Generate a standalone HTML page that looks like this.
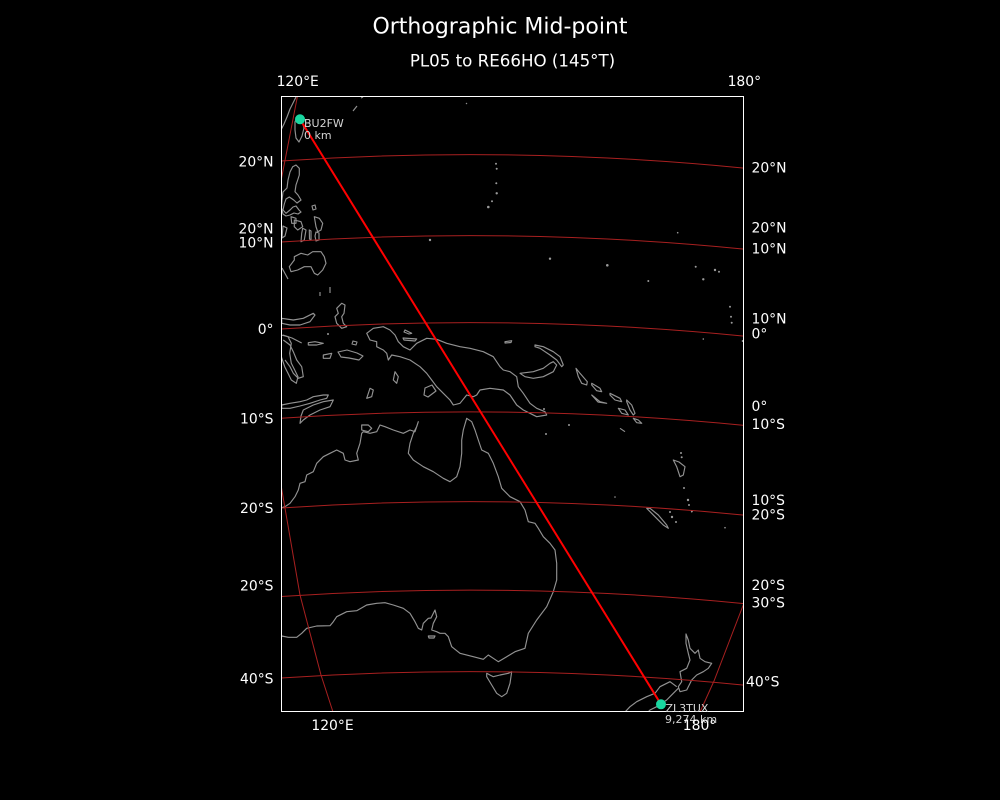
<!DOCTYPE html>
<html>
<head>
<meta charset="utf-8">
<style>
  html,body{margin:0;padding:0;background:#000;}
  body{width:1000px;height:800px;overflow:hidden;}
  svg{display:block;}
  text{font-family:"DejaVu Sans","Liberation Sans",sans-serif;fill:#fff;}
</style>
</head>
<body>
<svg width="1000" height="800" viewBox="0 0 1000 800" xmlns="http://www.w3.org/2000/svg">
  <rect x="0" y="0" width="1000" height="800" fill="#000"/>
  <defs>
    <clipPath id="frame"><rect x="281" y="96" width="463" height="616"/></clipPath>
  </defs>

  <!-- titles -->
  <text x="500" y="33.5" font-size="22" text-anchor="middle">Orthographic Mid-point</text>
  <text x="512.5" y="66.7" font-size="16.67" text-anchor="middle">PL05 to RE66HO (145°T)</text>

  <g clip-path="url(#frame)">
    <!-- coastlines -->
    <g fill="none" stroke="#929292" stroke-width="1.15" stroke-linejoin="round">
      <!-- China coast -->
      <polyline points="281,130 284,124 287,117 290,109 293,103 296,97"/>
      <!-- Taiwan -->
      <polygon points="297,117 302,121 304,128 302,136 299,142 296,138 295,130 295,122"/>
      <polyline points="353,111 357,106"/>
      <polyline points="361,98 363,97"/>
      <polyline points="466,103 467,104"/>
      <!-- Luzon -->
      <polygon points="292.7,166.7 296,165 299.3,168.3 299.3,175 297.7,180 296,185 295,191.7 298,195 301,200 297,203 293.7,200 289.3,197 286,199 284.3,204 283,210 286,213.3 290,210 293,207 296,206 299,210 301,212 298,214 294,213 290,215 286,216 283,214 281.5,208 282,200 283,192 287,188 288,180 290,172"/>
      <polygon points="312,206 315,205 316,209 313,210"/>
      <!-- Mindoro -->
      <polygon points="291,216.7 296,218.3 296,223.3 291.7,223.3"/>
      <!-- Samar / Leyte -->
      <polygon points="314.3,216.7 319.3,218.3 322.7,223.3 321,230 317.7,231.7 316,226.7"/>
      <polygon points="316,232 319,233 319,240 316,241 315,236"/>
      <!-- Panay / Negros / Cebu -->
      <polygon points="294.3,220 301,221.7 302.7,226.7 297.7,230 294.3,226.7"/>
      <polygon points="302.7,228.3 306,230 304.3,240 301,241.7 301.7,233.3"/>
      <polygon points="309.3,230 311,231 311,240 309.5,239"/>
      <polygon points="283,226 287,228 285,236 282,238"/>
      <!-- Mindanao -->
      <polygon points="294.3,256.7 301,253.3 307.7,255 312.7,251.7 321,251.7 324.3,256.7 326,263.3 322.7,270 317.7,275 314.3,273.3 311,266.7 304.3,266.7 297.7,270 291,271.7 289.3,266.7 294.3,260"/>
      <polyline points="282,268 288,279"/>
      <polyline points="320,292 320,296"/>
      <polyline points="330,287 330,293"/>
      <!-- Sulawesi north arm -->
      <polygon points="281.7,318.3 293.3,320 303.3,318.3 313.3,313.3 315,315 310,321.7 300,325 290,325 281.7,323.3"/>
      <!-- Sulawesi body -->
      <polyline points="281.3,335 288,336.7 291.3,343.3 289.7,353.3 291.3,363.3 294.7,370 298,376.7 296.3,383.3 291.3,380 288,373.3 284.7,366.7 281.3,356.7"/>
      <polyline points="283,335 292,338 301.7,343"/>
      <polyline points="283.3,340 290,345 293.3,351.7 296.7,360 301.7,366.7 303.3,376.7 298.3,378.3 293.3,373.3 290,366.7 285,360"/>
      <!-- Halmahera -->
      <polygon points="341.7,303.3 345,305 344,313.3 341.7,316.7 343.3,323.3 346.7,326.7 341.7,328.3 336.7,323.3 335,316.7 338.3,313.3 336.7,308.3"/>
      <polygon points="308.3,342.7 315,341.7 323.3,343.3 316.7,345 308.3,345"/>
      <polygon points="323.3,355 331.7,353.3 330,358.3 323.3,358.3"/>
      <polygon points="338,352 347,350 357,353 363,356 359,360 349,358 341,357"/>
      <polygon points="353,341 357,342 356,345 352,344"/>
      <!-- New Guinea -->
      <polygon points="366.7,333.3 373.3,328.3 383.3,326.7 390,330 395,335 398.3,341.7 403.3,346.7 410,350 416.7,343.3 426.7,338.3 436.7,339.3 446.7,343.3 460,346.7 470,348.3 483.3,351.7 493.3,356.7 500,366.7 503.3,370 510,371.7 516.7,376.7 518.3,386.7 523.3,393.3 530,403.3 536.7,408.3 545,411.7 546.7,415 536.7,416.7 530,413.3 523.3,410 516.7,405 510,395 503.3,390 490,388.3 480,390 476.7,395 473.3,396.7 466.7,395 460,403.3 453.3,405 450,400 443.3,393.3 436.7,386.7 431.7,380 426.7,373.3 420,366.7 410,360 400,356.7 391.7,355 388.3,360 386.7,353.3 383.3,350 376.7,346.7 376.7,341.7 370,340"/>
      <polygon points="425,388 432,385 436,391 428,397 424,395"/>
      <polygon points="405,330 411.7,333.3 409,334 404,332"/>
      <polygon points="403,338 416.7,339 415,341 404,340"/>
      <polygon points="395,371.7 398.3,376.7 396.7,383.3 393.3,380"/>
      <polygon points="370,388.3 373.3,390 371.7,396.7 366.7,398.3"/>
      <!-- Timor / Flores -->
      <polygon points="303.3,410 313.3,405 323.3,401.7 333.3,400 330,406.7 320,410 310,415 303.3,420 300,423.3 301,416"/>
      <polygon points="281.7,405 290,403.3 300,401.7 306.7,400 313.3,396.7 323.3,395 328.3,395 326.7,398.3 320,400 310,403.3 300,406 290,408.3 281.7,408.3"/>
      <!-- New Britain / New Ireland -->
      <polygon points="520,373.3 533.3,371.7 543.3,368.3 550,363.3 553.3,361.7 556.7,365 553.3,371.7 543.3,376.7 533.3,378.3 525,376.7"/>
      <polygon points="535,345 543.3,346.7 553.3,351.7 560,356.7 563.3,365 561.7,366.7 556.7,360 550,355 540,348.3 535,346.7"/>
      <polygon points="505,341.7 511.7,340.7 511,342.5 505,343"/>
      <!-- Solomons -->
      <polygon points="576,368.3 580,373.3 587.3,381.7 586.7,385 581.7,383.3 578.3,376.7"/>
      <polygon points="591.7,383.3 600,388.3 601.7,391.7 596.7,390.7 591.7,385"/>
      <polygon points="610,393.3 620,398.3 621.7,401.7 615,400 610,395"/>
      <polygon points="626.7,400 631.7,405 635,413.3 633.3,415 630,410 626.7,401.7"/>
      <polygon points="618.3,408.3 625,410 628.3,415 621.7,413.3"/>
      <polygon points="633.3,418.3 638.3,420 641.7,423.3 636.7,422.7"/>
      <polygon points="591.7,395 600,401.7 606.7,403.3 598,402"/>
      <polyline points="620,428.3 625,431.7"/>
      <!-- Vanuatu -->
      <polygon points="673.3,460 676.7,466.7 680,476.7 683.3,475 685,466.7 679,462"/>
      <!-- New Caledonia -->
      <polygon points="646.7,508.3 655,516.7 663.3,525 668.3,528.3 666.7,525 658.3,515 650,508.3"/>
      <!-- Australia -->
      <polyline points="281,508 285,506.7 290,503.3 295,496.7 298.3,490 300,483.3 305,481.7 306.7,475 313.3,471.7 316.7,463.3 323.3,456.7 330,453.3 336.7,450 343.3,453.3 345,460 350,461.7 358.3,460 356.7,453.3 360,443.3 361.7,433.3 363.3,431.7 370,433.3 376.7,431.7 380,425 385,426.7 393.3,430 403.3,433.3 410,430 415,431.7 418.3,421.7 416.7,426.7 413.3,433.3 410,443.3 408.3,453.3 413.3,460 423.3,466.7 433.3,471.7 443.3,478.3 450,481.7 456.7,476.7 460,466.7 461.7,453.3 461.7,440 463.3,430 466.7,418.3 471.7,421.7 475,430 478.3,440 481.7,450 488.3,453.3 493.3,463.3 498.3,476.7 501.7,488.3 510,496.7 520,501.7 525,510 528.3,521.7 535,523.3 538.3,528.3 543.3,536.7 550,543.3 555,550 556.7,563.3 556.7,580 553.3,591.7 546.7,606.7 536.7,620 528.3,633.3 525,648.3 515,651.7 506.7,656.7 498.3,661.7 493.3,658.3 488.3,655 483.3,659.3 473.3,656.7 460,653.3 451.7,646.7 448.3,636.7 445,633.3 440,633.3 436.7,631.7 431.7,630 433.3,623.3 436.7,616.7 435,610 431,618 428.3,618.3 423.3,623.3 421.7,630 418.3,628.3 415,621.7 410,613.3 403.3,608.3 393.3,605 385,602.7 376.7,603.3 366.7,605 356.7,610.7 346.7,611.7 336.7,616.7 333.3,621.7 330,625.7 316.7,626 306.7,628.3 301.7,633.3 296.7,637.3 288.3,637.3 281.7,636"/>
      <polygon points="361.7,425 368.3,425 371.7,428.3 368.3,431.7 361.7,430"/>
      <polygon points="428.3,636 435,636 434,638 429,638"/>
      <!-- Tasmania -->
      <polygon points="486.7,673.3 493.3,676.7 500,675 508.3,673.3 511.7,671.7 510,683.3 506.7,693.3 501.7,696.7 496.7,693.3 491.7,685 486.7,676.7"/>
      <!-- New Zealand -->
      <polygon points="686,634 688.3,640 690,648.3 695,653.3 698.3,650 700,658.3 705,661.7 711.7,663.3 708.3,668.3 703.3,671.7 696.7,675 691.7,680 686.7,690 680,691.7 678.3,686.7 681.7,681.7 680,671.7 686.7,668.3 690,660 688.3,653.3 686,643.3"/>
      <polyline points="676.7,686.7 670,681.7 660,686.7 655,693.3 646.7,696.7 636.7,701.7 630,706.7 625,712"/>
      <polyline points="678.3,688.3 673.3,693.3 666.7,700 656.7,706.7 650,710 647,713"/>
    </g>
    <!-- small island dots -->
    <g fill="#9a9a9a">
      <circle cx="496" cy="163.7" r="1"/><circle cx="496.7" cy="168.7" r="1"/>
      <circle cx="496.3" cy="183.3" r="1"/><circle cx="496.7" cy="193.3" r="1.2"/>
      <circle cx="492" cy="201.3" r="1"/><circle cx="488.3" cy="207" r="1.3"/>
      <circle cx="430" cy="240" r="1.2"/><circle cx="550" cy="258.7" r="1.2"/>
      <circle cx="607.3" cy="265.3" r="1.3"/><circle cx="648.3" cy="281" r="1"/>
      <circle cx="695.7" cy="266.7" r="1"/><circle cx="715" cy="270" r="1.2"/>
      <circle cx="719" cy="271.7" r="1"/><circle cx="703.3" cy="279.3" r="1.2"/>
      <circle cx="677.7" cy="232.7" r="0.8"/><circle cx="730" cy="306.7" r="1"/>
      <circle cx="731" cy="316.7" r="1"/><circle cx="731.7" cy="322.7" r="1"/>
      <circle cx="742.7" cy="341" r="1"/><circle cx="703.3" cy="339" r="0.8"/>
      <circle cx="725" cy="527.7" r="0.8"/><circle cx="691.7" cy="511.7" r="0.8"/>
      <circle cx="681.7" cy="457.3" r="1"/><circle cx="681" cy="453" r="1"/>
      <circle cx="684" cy="488" r="1"/><circle cx="688" cy="500" r="1.2"/>
      <circle cx="689" cy="505" r="1"/><circle cx="692" cy="511" r="1"/>
      <circle cx="670" cy="512" r="1"/><circle cx="672" cy="517" r="1.2"/>
      <circle cx="676" cy="522" r="1"/><circle cx="615" cy="497" r="0.8"/>
      <circle cx="546" cy="434" r="1"/><circle cx="569" cy="425" r="1"/>
      <circle cx="544" cy="409" r="1"/><circle cx="328" cy="334" r="1"/>
    </g>

    <!-- graticule -->
    <g fill="none" stroke="#a82020" stroke-width="1">
      <path d="M281,161 Q512.5,145.25 744,168.1"/>
      <path d="M281,242 Q512.5,226.25 744,249.1"/>
      <path d="M281,329 Q512.5,313.25 744,336.1"/>
      <path d="M281,418.3 Q512.5,402.55 744,425.4"/>
      <path d="M281,508 Q512.5,492.25 744,515.1"/>
      <path d="M281,596.5 Q512.5,580.75 744,603.6"/>
      <path d="M281,678 Q512.5,662.25 744,685.1"/>
      <path d="M297.5,96 L281,181"/>
      <polyline points="281,485 290.5,540 300,595 310.5,635 321,675 333,712"/>
      <polyline points="744,603 729,642 714,681 700,712"/>
    </g>

    <!-- great circle path -->
    <line x1="300" y1="119.3" x2="661" y2="704.3" stroke="#ff0000" stroke-width="2"/>
  </g>

  <!-- frame -->
  <rect x="281.5" y="96.5" width="462" height="615" fill="none" stroke="#ffffff" stroke-width="1"/>

  <!-- endpoints -->
  <circle cx="300" cy="119.3" r="5" fill="#19d6a0"/>
  <circle cx="661" cy="704.3" r="5" fill="#19d6a0"/>
  <g font-size="11">
    <text x="304" y="127" style="fill:#d4d4d4">BU2FW</text>
    <text x="304" y="139" style="fill:#d4d4d4">0 km</text>
    <text x="665.5" y="712" style="fill:#d4d4d4">ZL3TUX</text>
    <text x="665" y="723" style="fill:#d4d4d4">9,274 km</text>
  </g>

  <!-- tick labels -->
  <g font-size="13.9">
    <text x="297.7" y="86" text-anchor="middle">120°E</text>
    <text x="744.3" y="86" text-anchor="middle">180°</text>
    <text x="332.5" y="730" text-anchor="middle">120°E</text>
    <text x="699.5" y="730" text-anchor="middle">180°</text>

    <text x="273.5" y="166.3" text-anchor="end">20°N</text>
    <text x="273.5" y="233.3" text-anchor="end">20°N</text>
    <text x="273.5" y="247.5" text-anchor="end">10°N</text>
    <text x="273.5" y="334" text-anchor="end">0°</text>
    <text x="273.5" y="423.3" text-anchor="end">10°S</text>
    <text x="273.5" y="513" text-anchor="end">20°S</text>
    <text x="273.5" y="590.3" text-anchor="end">20°S</text>
    <text x="273.5" y="683.3" text-anchor="end">40°S</text>

    <text x="751.5" y="172.3">20°N</text>
    <text x="751.5" y="232.3">20°N</text>
    <text x="751.5" y="253.3">10°N</text>
    <text x="751.5" y="323.3">10°N</text>
    <text x="751.5" y="338.3">0°</text>
    <text x="751.5" y="411">0°</text>
    <text x="751.5" y="429">10°S</text>
    <text x="751.5" y="505">10°S</text>
    <text x="751.5" y="519.3">20°S</text>
    <text x="751.5" y="590">20°S</text>
    <text x="751.5" y="607.3">30°S</text>
    <text x="746" y="686.7">40°S</text>
  </g>
</svg>
</body>
</html>
